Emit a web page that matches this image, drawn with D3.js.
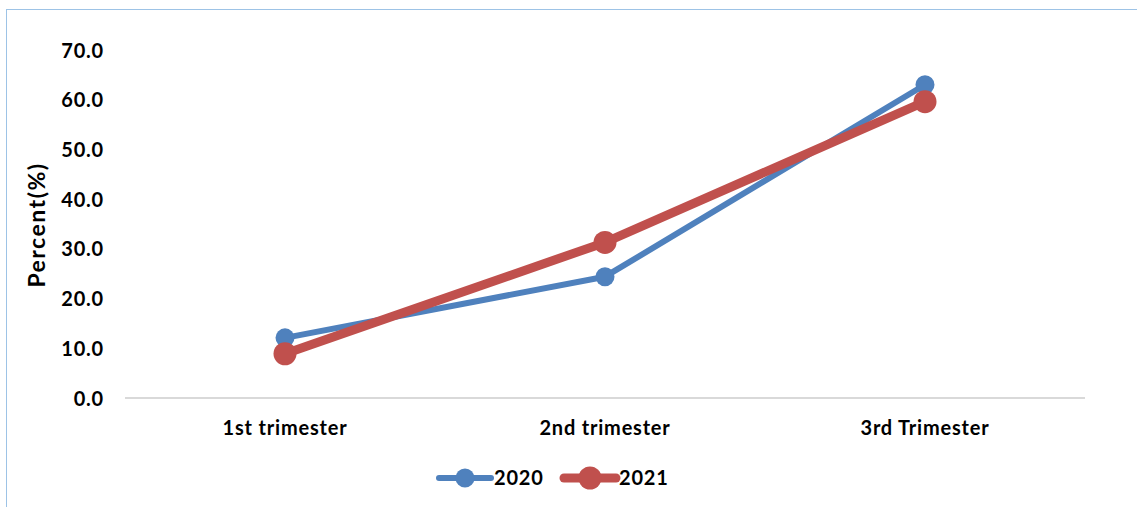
<!DOCTYPE html>
<html><head><meta charset="utf-8">
<script src="https://cdn.jsdelivr.net/npm/d3@7"></script>
<style>body{margin:0;background:#fff;} text{font-family:"Lato","Open Sans",sans-serif;font-weight:bold;fill:#000;letter-spacing:0.8px;}</style>
</head><body><svg id="c" width="1137" height="507"></svg>
<script>
const categories = ["1st trimester","2nd trimester","3rd Trimester"];
const series2020 = [12.1, 24.4, 63.0];
const series2021 = [8.9, 31.3, 59.6];
const yTicks = [0,10,20,30,40,50,60,70];
const seriesNames = ["2020","2021"];

const svg = d3.select("#c");
svg.append("rect").attr("x",6.5).attr("y",9.5).attr("width",1140).attr("height",510)
  .attr("fill","none").attr("stroke","#9dc3e6").attr("stroke-width",1);

const x = d3.scaleBand().domain(categories).range([125,1085]);
const y = d3.scaleLinear().domain([0,70]).range([398,50]);

svg.append("line").attr("x1",125).attr("x2",1085).attr("y1",y(0)).attr("y2",y(0))
  .attr("stroke","#d9d9d9").attr("stroke-width",2);

const yAxis = svg.append("g").attr("transform","translate(104,0)")
  .call(d3.axisLeft(y).tickValues(yTicks).tickFormat(d3.format(".1f")).tickSize(0).tickPadding(0));
yAxis.select(".domain").remove();
yAxis.selectAll("text").attr("font-size",20).attr("dy","0.35em").style("font-family","Lato,sans-serif").style("font-weight","bold").style("letter-spacing","0.8px").attr("fill","#000");

const xAxis = svg.append("g").attr("transform","translate(0,"+y(0)+")")
  .call(d3.axisBottom(x).tickSize(0).tickPadding(23));
xAxis.select(".domain").remove();
xAxis.selectAll("text").attr("font-size",20).style("font-family","Lato,sans-serif").style("font-weight","bold").style("letter-spacing","0.8px").attr("fill","#000");

svg.append("text").attr("transform","translate(45,225) rotate(-90)").attr("text-anchor","middle")
  .attr("font-size",23).style("letter-spacing","1.5px").text("Percent(%)");

const data = [
  {name:seriesNames[0], vals:series2020, color:"#4F81BD", w:6, r:9.5},
  {name:seriesNames[1], vals:series2021, color:"#C0504D", w:9, r:11.5}
];
const line = d3.line().x((d,i)=>x(categories[i])+x.bandwidth()/2).y(d=>y(d));
data.forEach(s=>{
  svg.append("path").datum(s.vals).attr("d",line).attr("fill","none")
    .attr("stroke",s.color).attr("stroke-width",s.w).attr("stroke-linejoin","round").attr("stroke-linecap","round");
  svg.selectAll(null).data(s.vals).enter().append("circle")
    .attr("cx",(d,i)=>x(categories[i])+x.bandwidth()/2).attr("cy",d=>y(d)).attr("r",s.r).attr("fill",s.color);
});

// legend
const lx = [437, 562];
data.forEach((s,i)=>{
  const g = svg.append("g").attr("transform","translate("+lx[i]+",478)");
  g.append("line").attr("x1",2).attr("x2",54).attr("y1",0).attr("y2",0).attr("stroke",s.color)
    .attr("stroke-width",s.w).attr("stroke-linecap","round");
  g.append("circle").attr("cx",28).attr("cy",0).attr("r",s.r).attr("fill",s.color);
  g.append("text").attr("x",57).attr("y",0).attr("dy","0.35em").attr("font-size",20).text(s.name);
});
</script></body></html>
